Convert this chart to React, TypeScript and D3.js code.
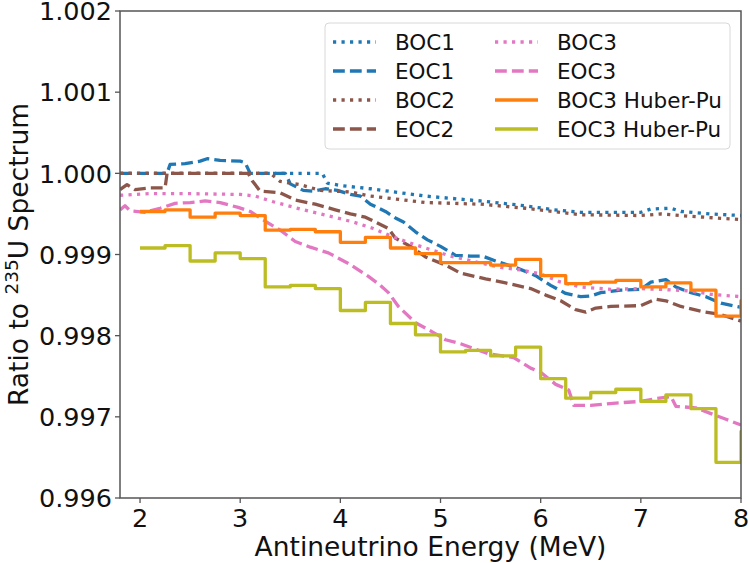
import React from "react";
import * as d3 from "d3";

// ---------- data ----------
const boc1X = [1.8, 3.82, 3.87, 4.0, 4.3, 4.6, 4.85, 5.4, 5.85, 6.13, 6.4, 7.0, 7.1, 7.3, 7.4, 7.7, 8.0];
const boc1Y = [1.0, 1.0, 0.99988, 0.99985, 0.99981, 0.99976, 0.99972, 0.99966, 0.9996, 0.99955, 0.99952, 0.99952, 0.99956, 0.99957, 0.99953, 0.9995, 0.99948];

const eoc1X = [1.8, 2.27, 2.3, 2.45, 2.6, 2.67, 2.8, 3.0, 3.05, 3.1, 3.45, 3.5, 3.63, 3.73, 3.85, 3.97, 4.1, 4.2, 4.3, 4.45, 4.55, 4.63, 4.75, 4.87, 5.0, 5.15, 5.3, 5.42, 5.55, 5.75, 5.95, 6.1, 6.25, 6.4, 6.5, 6.6, 6.8, 7.0, 7.1, 7.25, 7.35, 7.5, 7.65, 7.8, 8.0];
const eoc1Y = [1.0, 1.0, 1.00011, 1.00012, 1.00015, 1.00018, 1.00016, 1.00015, 1.00013, 1.0, 1.0, 0.99987, 0.99979, 0.99978, 0.99981, 0.99979, 0.99974, 0.99972, 0.99962, 0.99953, 0.99945, 0.9994, 0.99928, 0.99918, 0.9991, 0.99899, 0.99898, 0.99898, 0.99892, 0.99884, 0.99874, 0.99862, 0.99852, 0.99848, 0.99849, 0.99853, 0.99856, 0.99857, 0.99866, 0.99869, 0.9986, 0.99853, 0.99848, 0.9984, 0.99835];

const boc2X = [1.8, 3.3, 3.4, 3.6, 3.8, 4.1, 4.3, 4.85, 5.4, 5.85, 6.4, 7.0, 7.2, 7.5, 8.0];
const boc2Y = [1.0, 1.0, 0.9999, 0.99986, 0.99979, 0.99977, 0.99972, 0.99964, 0.99962, 0.99957, 0.99949, 0.99948, 0.9995, 0.99947, 0.99943];

const eoc2X = [1.8, 1.87, 1.95, 2.1, 2.25, 2.27, 3.08, 3.12, 3.2, 3.4, 3.55, 3.75, 3.95, 4.1, 4.25, 4.35, 4.48, 4.55, 4.7, 4.85, 5.05, 5.2, 5.45, 5.65, 5.9, 6.05, 6.2, 6.35, 6.45, 6.55, 6.7, 7.0, 7.15, 7.25, 7.4, 7.6, 7.8, 8.0];
const eoc2Y = [0.9998, 0.99986, 0.9998, 0.99982, 0.99982, 1.0, 1.0, 0.99991, 0.99978, 0.99976, 0.99967, 0.99962, 0.99955, 0.9995, 0.99946, 0.9994, 0.99932, 0.9992, 0.9991, 0.99897, 0.99887, 0.99877, 0.9987, 0.99865, 0.99858, 0.9985, 0.99843, 0.99832, 0.99829, 0.99834, 0.99836, 0.99837, 0.99845, 0.99843, 0.99836, 0.9983, 0.99826, 0.99818];

const boc3X = [1.8, 2.1, 2.5, 3.0, 3.15, 3.33, 3.63, 3.87, 4.13, 4.33, 4.5, 4.7, 4.9, 5.1, 5.35, 5.6, 5.8, 6.0, 6.2, 6.4, 6.7, 7.0, 7.2, 7.5, 7.7, 8.0];
const boc3Y = [0.99973, 0.99975, 0.99975, 0.99974, 0.99972, 0.99965, 0.99955, 0.99948, 0.9994, 0.99932, 0.99923, 0.99914, 0.99906, 0.99898, 0.99891, 0.99884, 0.99881, 0.99876, 0.99866, 0.9986, 0.99857, 0.99858, 0.99857, 0.99855, 0.99851, 0.99848];

const eoc3X = [1.8, 1.85, 1.9, 2.05, 2.2, 2.35, 2.5, 2.65, 2.8, 2.98, 3.1, 3.25, 3.4, 3.55, 3.7, 3.88, 4.08, 4.28, 4.4, 4.48, 4.58, 4.75, 4.9, 5.05, 5.2, 5.47, 5.73, 5.9, 6.0, 6.15, 6.28, 6.33, 6.5, 6.75, 7.0, 7.13, 7.3, 7.35, 7.55, 7.7, 7.85, 8.0];
const eoc3Y = [0.99955, 0.9996, 0.99954, 0.99952, 0.99957, 0.99963, 0.99964, 0.99966, 0.99964, 0.99958, 0.99953, 0.99941, 0.9993, 0.99916, 0.99909, 0.99902, 0.99889, 0.99873, 0.99862, 0.99853, 0.99836, 0.99816, 0.99806, 0.99795, 0.9979, 0.99778, 0.99773, 0.9976, 0.99755, 0.9974, 0.99733, 0.99714, 0.99714, 0.99717, 0.99719, 0.99722, 0.99725, 0.99713, 0.99711, 0.99704, 0.99697, 0.9969];

// Huber-Pu histograms: bin starts (0.25 MeV bins)
const huberBins = [2.0, 2.25, 2.5, 2.75, 3.0, 3.25, 3.5, 3.75, 4.0, 4.25, 4.5, 4.75, 5.0, 5.25, 5.5, 5.75, 6.0, 6.25, 6.5, 6.75, 7.0, 7.25, 7.5, 7.75, 8.0];
const bocHuber = [0.99953, 0.99955, 0.99946, 0.99951, 0.99948, 0.9993, 0.99931, 0.99928, 0.99915, 0.99921, 0.99908, 0.99901, 0.9989, 0.9989, 0.99887, 0.99894, 0.99874, 0.99864, 0.99866, 0.99868, 0.9986, 0.99865, 0.99856, 0.99824, 0.99843];
const eocHuber = [0.99908, 0.99911, 0.99892, 0.99902, 0.99895, 0.9986, 0.99862, 0.99858, 0.99831, 0.99841, 0.99815, 0.99801, 0.9978, 0.99782, 0.99775, 0.99786, 0.99747, 0.99723, 0.9973, 0.99734, 0.99719, 0.99727, 0.9971, 0.99644, 0.99682];

const xTicks = [2, 3, 4, 5, 6, 7, 8];
const yTicks = [0.996, 0.997, 0.998, 0.999, 1.0, 1.001, 1.002];

const W = 750;
const H = 563;
const M = { left: 120, right: 741, top: 11, bottom: 498 };

const DOT = "3.2,5.3";
const DASH = "11.8,5.1";

export default function App() {
  const x = d3.scaleLinear().domain([1.8, 8]).range([M.left, M.right]);
  const y = d3.scaleLinear().domain([0.996, 1.002]).range([M.bottom, M.top]);
  const line = d3
    .line<[number, number]>()
    .x((d) => x(d[0]))
    .y((d) => y(d[1]));
  const stepLine = d3
    .line<[number, number]>()
    .x((d) => x(d[0]))
    .y((d) => y(d[1]))
    .curve(d3.curveStepAfter);

  const zip = (xs: number[], ys: number[]) => xs.map((v, i) => [v, ys[i]] as [number, number]);
  const hist = (vals: number[]) => {
    const pts = huberBins.map((b, i) => [b, vals[i]] as [number, number]);
    pts.push([huberBins[huberBins.length - 1] + 0.25, vals[vals.length - 1]]);
    return pts;
  };

  const series = [
    { label: "BOC1", color: "#1f77b4", dash: DOT, d: line(zip(boc1X, boc1Y)) },
    { label: "EOC1", color: "#1f77b4", dash: DASH, d: line(zip(eoc1X, eoc1Y)) },
    { label: "BOC2", color: "#8c564b", dash: DOT, d: line(zip(boc2X, boc2Y)) },
    { label: "EOC2", color: "#8c564b", dash: DASH, d: line(zip(eoc2X, eoc2Y)) },
    { label: "BOC3", color: "#e377c2", dash: DOT, d: line(zip(boc3X, boc3Y)) },
    { label: "EOC3", color: "#e377c2", dash: DASH, d: line(zip(eoc3X, eoc3Y)) },
    { label: "BOC3 Huber-Pu", color: "#ff7f0e", dash: "", d: stepLine(hist(bocHuber)) },
    { label: "EOC3 Huber-Pu", color: "#bcbd22", dash: "", d: stepLine(hist(eocHuber)) },
  ];

  const tickFont = 25.5;
  const labFont = 26.5;
  const legFont = 21.5;
  const font = "DejaVu Sans, sans-serif";

  const legX = 325;
  const legY = 23;
  const rowH = 29;
  const colW = [0, 162];

  return (
    <svg
      width={W}
      height={H}
      style={{ position: "absolute", left: 0, top: 0, background: "#fff" }}
      fontFamily={font}
    >
      <defs>
        <clipPath id="plotClip">
          <rect x={M.left} y={M.top} width={M.right - M.left} height={M.bottom - M.top} />
        </clipPath>
      </defs>
      <rect x={0} y={0} width={W} height={H} fill="#fff" />
      <g clipPath="url(#plotClip)">
        {series.map((s) => (
          <path
            key={s.label}
            d={s.d || ""}
            fill="none"
            stroke={s.color}
            strokeWidth={3.3}
            strokeDasharray={s.dash || undefined}
            strokeLinejoin="round"
          />
        ))}
      </g>
      {/* spines */}
      <rect
        x={M.left}
        y={M.top}
        width={M.right - M.left}
        height={M.bottom - M.top}
        fill="none"
        stroke="#555"
        strokeWidth={1.5}
      />
      {/* x ticks */}
      {xTicks.map((t) => (
        <g key={"x" + t} transform={`translate(${x(t)},${M.bottom})`}>
          <line y1={0} y2={5} stroke="#555" strokeWidth={1.3} />
          <text y={29} textAnchor="middle" fontSize={tickFont} fill="#111">
            {t}
          </text>
        </g>
      ))}
      {yTicks.map((t) => (
        <g key={"y" + t} transform={`translate(${M.left},${y(t)})`}>
          <line x1={0} x2={-5} stroke="#555" strokeWidth={1.3} />
          <text x={-8} dy="0.36em" textAnchor="end" fontSize={tickFont} fill="#111">
            {d3.format(".3f")(t)}
          </text>
        </g>
      ))}
      <text
        x={(M.left + M.right) / 2}
        y={556}
        textAnchor="middle"
        fontSize={labFont}
        fill="#111"
      >
        Antineutrino Energy (MeV)
      </text>
      <text
        transform={`translate(28,${(M.top + M.bottom) / 2}) rotate(-90)`}
        textAnchor="middle"
        fontSize={labFont}
        fill="#111"
      >
        Ratio to <tspan fontSize={18.5} dy={-10}>235</tspan>
        <tspan dy={10}>U Spectrum</tspan>
      </text>
      {/* legend */}
      <rect
        x={legX}
        y={legY}
        width={405}
        height={126}
        rx={4}
        fill="#fff"
        fillOpacity={0.85}
        stroke="#d8d8d8"
        strokeWidth={1}
      />
      {series.map((s, i) => {
        const col = Math.floor(i / 4);
        const row = i % 4;
        const lx = legX + 8 + colW[col];
        const ly = legY + 19 + row * rowH;
        return (
          <g key={"leg" + s.label}>
            <line
              x1={lx}
              x2={lx + 43}
              y1={ly}
              y2={ly}
              stroke={s.color}
              strokeWidth={3.3}
              strokeDasharray={s.dash || undefined}
            />
            <text x={lx + 62} y={ly} dy="0.36em" fontSize={legFont} fill="#111">
              {s.label}
            </text>
          </g>
        );
      })}
    </svg>
  );
}
